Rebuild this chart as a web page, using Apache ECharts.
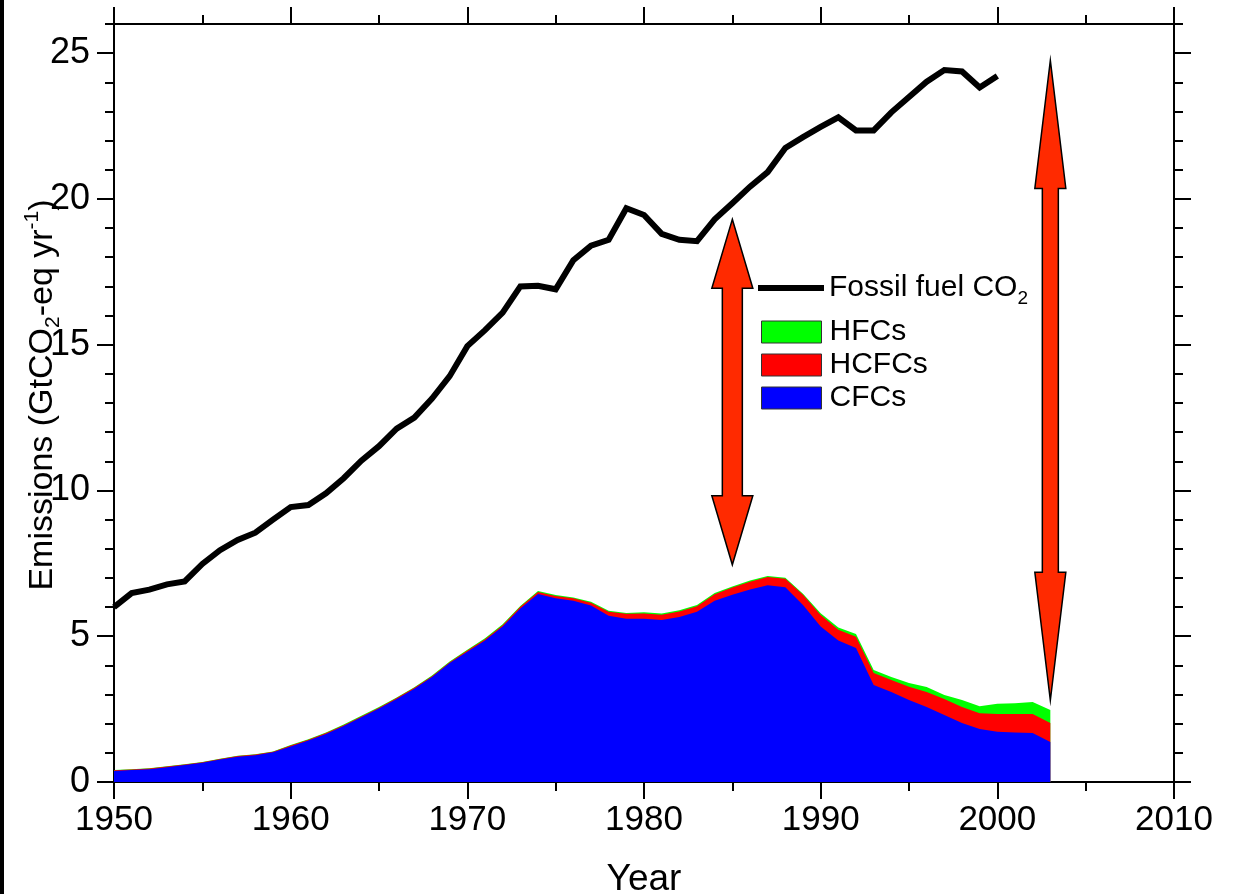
<!DOCTYPE html>
<html><head><meta charset="utf-8">
<script src="https://cdn.jsdelivr.net/npm/echarts@6.0.0/dist/echarts.min.js"></script>
<style>html,body{margin:0;padding:0;background:#fff}#c{width:1241px;height:894px}</style>
</head><body><div id="c"></div>
<script>
// ---------------- data ----------------
const fossilYears = [1950,1951,1952,1953,1954,1955,1956,1957,1958,1959,
  1960,1961,1962,1963,1964,1965,1966,1967,1968,1969,
  1970,1971,1972,1973,1974,1975,1976,1977,1978,1979,
  1980,1981,1982,1983,1984,1985,1986,1987,1988,1989,
  1990,1991,1992,1993,1994,1995,1996,1997,1998,1999,2000];
const fossilCO2 = [6.0,6.48,6.6,6.78,6.88,7.48,7.95,8.3,8.55,9.0,
  9.43,9.5,9.9,10.42,11.02,11.52,12.12,12.5,13.15,13.92,
  14.95,15.5,16.1,17.0,17.02,16.9,17.9,18.4,18.6,19.68,
  19.45,18.8,18.6,18.55,19.3,19.85,20.42,20.92,21.75,22.12,
  22.47,22.8,22.35,22.35,22.97,23.5,24.02,24.42,24.37,23.82,24.22];

const haloYears = [1950,1951,1952,1953,1954,1955,1956,1957,1958,1959,
  1960,1961,1962,1963,1964,1965,1966,1967,1968,1969,
  1970,1971,1972,1973,1974,1975,1976,1977,1978,1979,
  1980,1981,1982,1983,1984,1985,1986,1987,1988,1989,
  1990,1991,1992,1993,1994,1995,1996,1997,1998,1999,
  2000,2001,2002,2003];
const cfcs = [0.38,0.41,0.44,0.51,0.58,0.66,0.77,0.87,0.92,1.02,
  1.22,1.42,1.65,1.92,2.22,2.52,2.85,3.2,3.6,4.08,
  4.47,4.85,5.33,5.95,6.45,6.3,6.22,6.05,5.7,5.6,
  5.6,5.56,5.66,5.84,6.22,6.42,6.6,6.75,6.68,6.07,
  5.33,4.85,4.6,3.33,3.09,2.81,2.57,2.3,2.02,1.82,
  1.72,1.7,1.68,1.37];
const hcfcs = [0.02,0.02,0.02,0.02,0.02,0.02,0.02,0.02,0.02,0.02,
  0.03,0.03,0.03,0.03,0.03,0.03,0.03,0.03,0.03,0.03,
  0.04,0.05,0.05,0.06,0.07,0.08,0.08,0.1,0.14,0.17,
  0.18,0.18,0.19,0.19,0.22,0.25,0.27,0.28,0.29,0.35,
  0.4,0.37,0.38,0.41,0.41,0.46,0.52,0.55,0.55,0.54,
  0.61,0.63,0.65,0.65];
const hfcs = [0.01,0.01,0.01,0.01,0.01,0.01,0.01,0.01,0.01,0.01,
  0.02,0.02,0.02,0.02,0.02,0.02,0.02,0.02,0.02,0.02,
  0.03,0.03,0.03,0.03,0.03,0.03,0.03,0.03,0.03,0.03,
  0.04,0.04,0.04,0.04,0.04,0.04,0.04,0.04,0.04,0.04,
  0.06,0.08,0.1,0.1,0.1,0.13,0.17,0.13,0.24,0.24,
  0.35,0.37,0.41,0.45];

const yTickLabels = [0,5,10,15,20,25];

// double-headed annotation arrows: year, lower tip, upper tip
const arrowYears = [1985, 2003];
const arrowLow = [7.45, 2.8];
const arrowHigh = [19.3, 24.75];

// ---------------- styles ----------------
const FONT = "'Liberation Sans', Arial, Helvetica, sans-serif";
const ARROW_SHAPES = [
  {head: 69, halfHead: 20.5, halfShaft: 10},
  {head: 128, halfHead: 15.5, halfShaft: 8}
];
const lineBlack = {color: '#000', width: 2};

// stacked tops (CFCs at the bottom, then HCFCs, then HFCs)
const topCfc = cfcs.slice();
const topHcfc = cfcs.map((v, i) => v + hcfcs[i]);
const topHfc = topHcfc.map((v, i) => v + hfcs[i]);

function pairs(xs, ys) { return xs.map((x, i) => [x, ys[i]]); }

function xAxisCfg(pos, labels) {
  return {
    type: 'value', min: 1950, max: 2010, interval: 10, position: pos,
    axisLine: {show: true, onZero: false, lineStyle: lineBlack},
    axisTick: {show: true, inside: false, length: 17, lineStyle: lineBlack},
    minorTick: {show: true, splitNumber: 2, length: 9, lineStyle: lineBlack},
    splitLine: {show: false}, minorSplitLine: {show: false},
    axisLabel: {show: labels, fontSize: 35, color: '#000', fontFamily: FONT, margin: 21,
      formatter: v => String(v)},
    name: labels ? 'Year' : '', nameLocation: 'middle', nameGap: 79, nameMoveOverlap: false,
    nameTextStyle: {fontSize: 37, color: '#000', fontFamily: FONT}
  };
}
function yMinorCfg(pos, labels) {
  const c = {
    type: 'value', min: 0, max: 26, interval: 1, position: pos,
    axisLine: {show: true, onZero: false, lineStyle: lineBlack},
    axisTick: {show: true, inside: false, length: 9, lineStyle: lineBlack},
    splitLine: {show: false},
    axisLabel: {show: labels, fontSize: 36, color: '#000', fontFamily: FONT, margin: 24,
      formatter: v => (yTickLabels.indexOf(v) >= 0 ? String(v) : '')}
  };
  if (labels) {
    c.name = '{a|Emissions (GtCO}{s|2}{a|-eq yr}{p|-1}{a|)}';
    c.nameLocation = 'middle';
    c.nameRotate = 90;
    c.nameGap = 50;
    c.nameMoveOverlap = false;
    c.nameTextStyle = {color: '#000', fontFamily: FONT, fontSize: 34, padding: [0, 0, 0, 16], rich: {
      a: {fontSize: 34, fontFamily: FONT, color: '#000', lineHeight: 42, verticalAlign: 'middle'},
      s: {fontSize: 21, fontFamily: FONT, color: '#000', verticalAlign: 'bottom'},
      p: {fontSize: 21, fontFamily: FONT, color: '#000', verticalAlign: 'top'}
    }};
  }
  return c;
}
function yMajorCfg(pos) {
  return {
    type: 'value', min: 0, max: 26, interval: 5, position: pos,
    axisLine: {show: false},
    axisTick: {show: true, inside: false, length: 17, lineStyle: lineBlack, customValues: yTickLabels},
    splitLine: {show: false},
    axisLabel: {show: false}
  };
}
function areaSeries(name, color, tops) {
  return {name: name, type: 'line', data: pairs(haloYears, tops), symbol: 'none',
    itemStyle: {color: color}, lineStyle: {width: 0, color: color},
    areaStyle: {color: color, opacity: 1, origin: 'start'}, z: 2};
}

const chart = echarts.init(document.getElementById('c'), null, {renderer: 'canvas'});
chart.setOption({
  animation: false,
  backgroundColor: '#fff',
  grid: {left: 114, right: 67, top: 24, bottom: 112, containLabel: false, outerBoundsMode: 'none'},
  xAxis: [xAxisCfg('bottom', true), xAxisCfg('top', false)],
  yAxis: [yMinorCfg('left', true), yMajorCfg('left'), yMinorCfg('right', false), yMajorCfg('right')],
  legend: [
    {
      data: [{name: 'Fossil fuel CO2', icon: 'rect'}],
      left: 758, top: 273, padding: 0, itemWidth: 66, itemHeight: 6, selectedMode: false,
      formatter: () => '{a|Fossil fuel CO}{b|2}',
      textStyle: {color: '#000', fontFamily: FONT, fontSize: 30, rich: {
        a: {fontSize: 30, fontFamily: FONT, color: '#000', lineHeight: 40, verticalAlign: 'middle'},
        b: {fontSize: 19, fontFamily: FONT, color: '#000', verticalAlign: 'bottom'}
      }}
    },
    {
      data: ['HFCs', 'HCFCs', 'CFCs'], orient: 'vertical', icon: 'rect',
      left: 761, top: 317, padding: 0, itemWidth: 60, itemHeight: 22, itemGap: 3, selectedMode: false,
      itemStyle: {borderColor: '#333', borderWidth: 1},
      textStyle: {color: '#000', fontFamily: FONT, fontSize: 30, padding: [0, 0, 0, 3]}
    }
  ],
  graphic: [{type: 'rect', shape: {x: 0, y: 0, width: 4, height: 894}, style: {fill: '#000'}, z: 100}],
  series: [
    areaSeries('HFCs', '#00ff00', topHfc),
    areaSeries('HCFCs', '#ff0000', topHcfc),
    areaSeries('CFCs', '#0000ff', topCfc),
    {name: 'Fossil fuel CO2', type: 'line', data: pairs(fossilYears, fossilCO2), symbol: 'none',
     itemStyle: {color: '#000'}, lineStyle: {width: 6, color: '#000', join: 'miter'}, z: 3},
    {name: 'arrows', type: 'custom', silent: true, clip: false, z: 5,
     data: arrowYears.map((yr, i) => [yr, arrowLow[i], arrowHigh[i]]),
     renderItem: (params, api) => {
       const s = ARROW_SHAPES[params.dataIndex];
       const top = api.coord([api.value(0), api.value(2)]);
       const bot = api.coord([api.value(0), api.value(1)]);
       const cx = top[0], yT = top[1], yB = bot[1];
       const pts = [
         [cx, yT], [cx + s.halfHead, yT + s.head], [cx + s.halfShaft, yT + s.head],
         [cx + s.halfShaft, yB - s.head], [cx + s.halfHead, yB - s.head], [cx, yB],
         [cx - s.halfHead, yB - s.head], [cx - s.halfShaft, yB - s.head],
         [cx - s.halfShaft, yT + s.head], [cx - s.halfHead, yT + s.head]
       ];
       return {type: 'polygon', shape: {points: pts},
               style: {fill: '#ff2a00', stroke: '#000', lineWidth: 1.5}};
     }}
  ]
});
</script></body></html>
